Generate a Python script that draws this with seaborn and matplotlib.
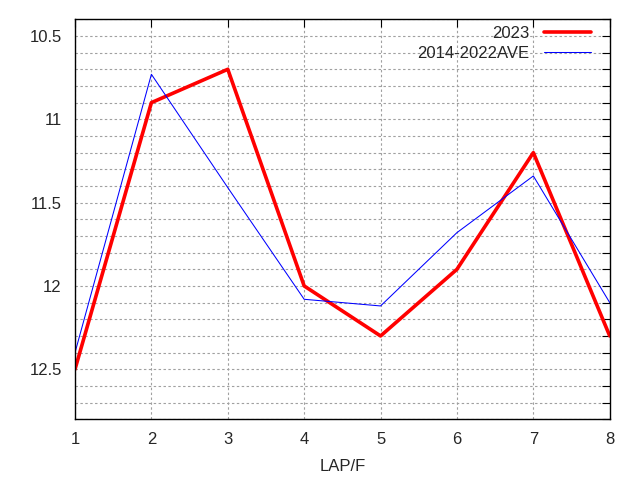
import matplotlib
matplotlib.use("Agg")
import matplotlib.pyplot as plt
from matplotlib.ticker import MultipleLocator
import seaborn as sns
import pandas as pd

laps = [1, 2, 3, 4, 5, 6, 7, 8]
y2023 = [12.5, 10.9, 10.7, 12.0, 12.3, 11.9, 11.2, 12.3]
yave = [12.4, 10.73, 11.41, 12.08, 12.12, 11.68, 11.34, 12.1]
series_names = ["2023", "2014-2022AVE"]

df = pd.concat([
    pd.DataFrame({"LAP": laps, "val": y2023, "series": series_names[0]}),
    pd.DataFrame({"LAP": laps, "val": yave, "series": series_names[1]}),
])

sns.set_style("white")
plt.rcParams['font.family'] = ['Liberation Sans', 'DejaVu Sans']
plt.rcParams['font.size'] = 12

fig = plt.figure(figsize=(6.4, 4.8), dpi=100)
ax = fig.add_axes([0.1172, 0.1265, 0.9527 - 0.1172, 0.9598 - 0.1265])

sns.lineplot(data=df, x="LAP", y="val", hue="series", size="series",
             palette={series_names[0]: "#ff0000", series_names[1]: "#0000ff"},
             sizes={series_names[0]: 2.6, series_names[1]: 0.75},
             ax=ax, legend=True)

ax.set_xlim(1, 8)
ax.set_ylim(12.8, 10.4)
ax.xaxis.set_major_locator(MultipleLocator(1))
ax.yaxis.set_minor_locator(MultipleLocator(0.1))
ax.set_yticks([10.5, 11, 11.5, 12, 12.5])
ax.set_yticklabels(["10.5", "11", "11.5", "12", "12.5"])
ax.grid(True, which="both", axis="y", color="#a0a0a0", linestyle=(0, (2.2, 2.2)), linewidth=0.8)
ax.grid(True, which="major", axis="x", color="#a0a0a0", linestyle=(0, (2.2, 2.2)), linewidth=0.8)
ax.set_axisbelow(True)
ax.tick_params(axis="both", which="both", direction="in", top=True, right=True,
               length=6, width=0.8, color="black", labelsize=12, pad=9)
ax.tick_params(axis="y", which="major", pad=9.5)
for s in ax.spines.values():
    s.set_visible(True)
    s.set_color("black")
    s.set_linewidth(1.0)
ax.set_xlabel("LAP/F", fontsize=12, labelpad=9)
ax.set_ylabel("")

h, l = ax.get_legend_handles_labels()
ax.legend(h, l, loc="upper right", bbox_to_anchor=(1 - 7 / 534.7, 1 + 5 / 400),
          frameon=False, markerfirst=False,
          handlelength=2.8, fontsize=12, borderaxespad=0.3, labelspacing=0.3,
          handletextpad=0.9)

fig.savefig("out.png", dpi=100)
